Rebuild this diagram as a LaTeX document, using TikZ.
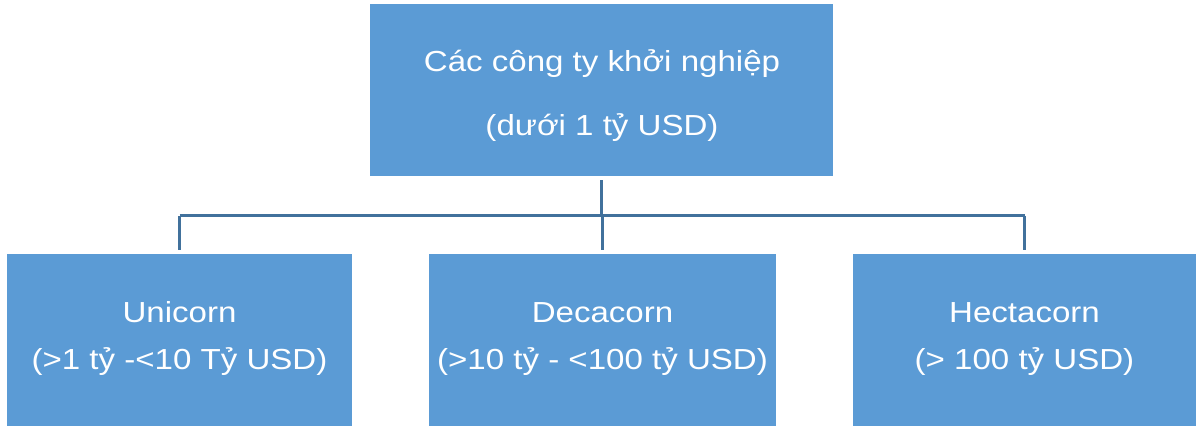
\documentclass[tikz,border=0pt]{standalone}
\usepackage{fontspec}
\setmainfont{Liberation Sans}
\usetikzlibrary{calc}
\definecolor{boxblue}{HTML}{5B9BD5}
\definecolor{lineblue}{HTML}{41719C}
\newcommand{\sx}[1]{\scalebox{1.14}[1]{#1}}
\tikzset{
  orgbox/.style={fill=boxblue, draw=none, inner sep=0pt, minimum height=172pt},
  toptext/.style={text=white, align=center, inner sep=0pt, font=\fontsize{29}{64}\selectfont},
  subtext/.style={text=white, align=center, inner sep=0pt, font=\fontsize{29}{47}\selectfont},
  conn/.style={draw=lineblue, line width=3pt}
}
\begin{document}
\begin{tikzpicture}[x=1pt,y=-1pt]
\useasboundingbox (0,0) rectangle (1197,430);
\fill[white] (0,0) rectangle (1197,430);
\node[orgbox, minimum width=463pt] (top) at (601.5,90) {};
\node[orgbox, minimum width=345pt] (a) at (179.5,340) {};
\node[orgbox, minimum width=347pt] (b) at (602.5,340) {};
\node[orgbox, minimum width=343pt] (c) at (1024.5,340) {};
\node[toptext] (ttop) at (602,96) {\sx{Các công ty khởi nghiệp}\\\sx{(dưới 1 tỷ USD)}};
\node[subtext] (ta) at (179.5,339) {\sx{Unicorn}\\\sx{(>1 tỷ -<10 Tỷ USD)}};
\node[subtext] (tb) at (602.5,339) {\sx{Decacorn}\\\sx{(>10 tỷ - <100 tỷ USD)}};
\node[subtext] (tc) at (1024.5,339) {\sx{Hectacorn}\\\sx{(> 100 tỷ USD)}};
\coordinate (bus) at (0,216);
\draw[conn, shorten <=4pt] (top.south) -- (top.south |- bus);
\draw[conn] (bus -| a.north) -- (bus -| c.north);
\draw[conn, shorten >=4pt] (bus -| a.north) -- (a.north);
\draw[conn, shorten >=4pt] (bus -| b.north) -- (b.north);
\draw[conn, shorten >=4pt] (bus -| c.north) -- (c.north);
\end{tikzpicture}
\end{document}
